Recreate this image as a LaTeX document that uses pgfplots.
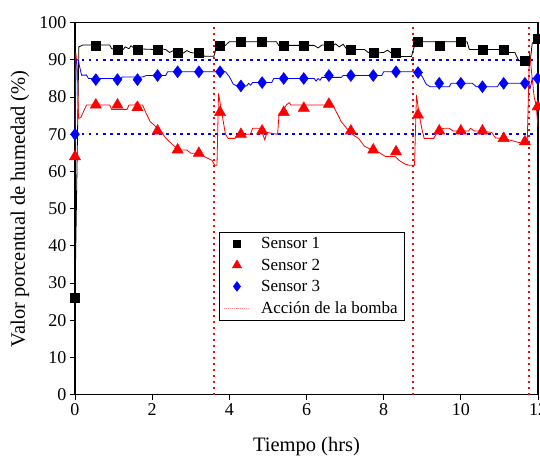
\documentclass[border=0pt]{standalone}
\usepackage{fontspec}
\setmainfont{Liberation Serif}
\usepackage{pgfplots}
\pgfplotsset{compat=1.18}
\begin{document}
\begin{tikzpicture}
\begin{axis}[
  scale only axis,
  width=463pt, height=372pt,
  xmin=0, xmax=12, ymin=0, ymax=100,
  xtick={0,2,...,12}, ytick={0,10,...,100},
  tick align=outside, xtick pos=bottom, ytick pos=left,
  major tick length=5pt,
  every tick/.style={black, line width=0.8pt},
  axis line style={line width=1.1pt},
  /pgf/number format/assume math mode=true,
  ticklabel style={font=\fontsize{18}{20}\selectfont},
  xlabel={Tiempo (hrs)}, ylabel={Valor porcentual de humedad (\%)},
  every axis x label/.style={at={(axis description cs:0.5,-0.1406)}, anchor=center, font=\fontsize{20.5}{23}\selectfont},
  every axis y label/.style={at={(axis description cs:-0.119,0.5)}, rotate=90, anchor=center, font=\fontsize{20.5}{23}\selectfont},
  clip mode=individual,
  legend image code/.code={\draw[mark repeat=2,mark phase=2,#1] plot coordinates {(8pt,0pt) (20.75pt,0pt) (33.5pt,0pt)};},
  legend image post style={mark options={scale=0.8}},
  legend style={at={(0.31,0.438)}, anchor=north west, draw=black, line width=0.6pt,
    font=\fontsize{17}{19}\selectfont, row sep=4.5pt, inner xsep=5pt, inner ysep=3.5pt,
    legend cell align=left, /tikz/every odd column/.append style={column sep=9pt}},
]
% reference lines
\addplot[blue, line width=2pt, dash pattern=on 2.5pt off 4.5pt, forget plot] coordinates {(0,90) (12,90)};
\addplot[blue, line width=2pt, dash pattern=on 2.5pt off 4.5pt, forget plot] coordinates {(0,70) (12,70)};
\addplot[red, line width=1.8pt, dash pattern=on 2pt off 4pt, forget plot] coordinates {(3.61,0) (3.61,100)};
\addplot[red, line width=1.8pt, dash pattern=on 2pt off 4pt, forget plot] coordinates {(8.77,0) (8.77,100)};
\addplot[red, line width=1.8pt, dash pattern=on 2pt off 4pt, forget plot] coordinates {(11.77,0) (11.77,100)};
% Sensor 1 line
\addplot[black, line width=0.8pt, forget plot] coordinates {
(0,26) (0.10,93.5) (0.20,94.0) (0.90,94.0) (0.95,93.0) (1.05,92.8) (1.25,92.8) (1.30,93.5)
(1.40,93.0) (1.45,93.8) (1.55,93.0) (2.05,92.8) (2.10,93.0) (2.35,92.8) (2.45,92.0) (2.55,92.5)
(2.65,91.8) (2.80,91.8) (2.90,92.5) (3.00,92.0) (3.10,91.8) (3.30,91.8) (3.35,91.0) (3.60,91.0)
(3.68,93.9) (3.90,93.9) (4.00,94.9) (5.22,94.9) (5.28,93.9) (5.80,93.9) (5.85,94.5) (5.95,93.9)
(6.20,93.9) (6.30,93.2) (6.40,94.0) (6.70,93.9) (6.75,94.3) (6.85,93.5) (6.95,94.2) (7.05,92.8)
(7.50,92.8) (7.60,92.0) (7.70,91.8) (8.00,92.0) (8.10,92.6) (8.20,91.8) (8.40,91.8) (8.45,90.9)
(8.72,90.9) (8.80,93.9) (8.90,94.9) (9.35,94.9) (9.40,93.9) (9.50,93.9) (9.55,94.9) (10.16,94.9)
(10.22,92.8) (11.15,92.8) (11.20,92.0) (11.40,92.0) (11.50,89.8) (11.80,89.8) (11.85,94.5) (12.0,95.8)
};
% Sensor 2 line
\addplot[red, line width=0.8pt, forget plot] coordinates {
(0,64) (0.02,92) (0.06,88) (0.09,74.3) (0.15,74.5) (0.30,77.9) (0.90,77.9) (0.95,76.7) (1.35,76.7)
(1.40,77.9) (1.55,77.9) (1.60,78.6) (1.65,77.9) (1.75,77.9) (1.85,75.5) (1.95,73.4) (2.05,72.5)
(2.15,71.5) (2.25,70.5) (2.35,69) (2.45,68) (2.55,67) (2.70,65.8) (2.90,65.8) (3.00,64.9)
(3.25,64.9) (3.35,64) (3.55,63) (3.62,61.7) (3.68,61.7) (3.72,81) (3.80,76) (3.90,70) (3.97,68.9)
(4.15,68.9) (4.20,70) (4.55,70) (4.60,71.6) (4.80,71.6) (4.85,70.5) (4.92,68.5) (4.97,70.5)
(5.25,70) (5.29,75.5) (5.40,76.5) (5.48,77.9) (5.55,78.5) (5.60,77.9) (6.60,77.9) (6.70,77.5)
(6.80,75.5) (6.90,73.4) (7.05,71.5) (7.15,70.5) (7.25,69.5) (7.35,68.9) (7.50,66.8) (7.70,65.8)
(7.90,65) (8.05,64) (8.30,64) (8.40,63) (8.55,62) (8.65,61.7) (8.80,61.7) (8.85,80.6) (8.92,75.2)
(9.00,71) (9.05,68.9) (9.30,68.9) (9.40,70.9) (9.55,71.6) (9.70,71.6) (9.80,70.9) (10.20,70.9)
(10.25,71.6) (10.35,70.9) (10.50,70.9) (10.80,70.5) (10.90,69) (11.10,68.9) (11.25,68.5)
(11.50,67.8) (11.72,67.6) (11.78,92.2) (11.85,85) (11.90,80) (11.95,78) (12.0,72)
};
% Sensor 3 line
\addplot[blue, line width=0.8pt, forget plot] coordinates {
(0,70) (0.03,90) (0.08,90) (0.17,85.9) (0.30,85.9) (0.35,85.0) (1.20,85.0) (1.22,85.4) (1.75,85.4)
(1.85,85.8) (2.35,85.8) (2.40,86.8) (3.90,86.8) (4.00,85.5) (4.10,83.5) (4.20,83.0) (4.45,83.0)
(4.50,83.7) (4.55,83.2) (4.60,83.9) (5.10,83.9) (5.15,85.0) (6.20,85.0) (6.25,84.3) (6.30,85.0)
(6.35,84.5) (6.40,85.3) (6.90,85.3) (6.95,85.8) (7.95,85.8) (8.00,86.8) (8.90,86.8) (9.00,85.5)
(9.10,83.5) (9.20,82.8) (9.70,82.8) (9.75,83.7) (10.30,83.7) (10.40,82.8) (10.95,82.8) (11.0,83.7)
(11.75,83.7) (11.80,82.5) (11.85,85) (12.0,85)
};
% markers
\addplot[black, only marks, mark=square*, mark size=4.5pt] coordinates {
(0,26) (0.54,93.9) (1.10,92.8) (1.62,92.8) (2.14,92.8) (2.66,91.8) (3.21,91.8) (3.76,93.9)
(4.30,94.9) (4.85,94.9) (5.41,93.9) (5.93,93.9) (6.58,93.9) (7.15,92.8) (7.73,91.8) (8.32,91.8)
(8.89,94.9) (9.44,93.9) (10.0,94.9) (10.56,92.8) (11.11,92.8) (11.66,89.8) (11.99,95.8)
};
\addlegendentry{Sensor 1}
\addplot[red, only marks, mark=triangle*, mark size=6.5pt] coordinates {
(0,64) (0.54,77.9) (1.10,77.9) (1.62,77.2) (2.14,70.9) (2.66,65.8) (3.21,64.9) (3.76,75.9)
(4.30,70.0) (4.85,70.9) (5.41,75.9) (5.93,77.0) (6.58,78.1) (7.15,70.9) (7.73,65.8) (8.32,65.3)
(8.89,75.2) (9.44,70.9) (10.0,70.9) (10.56,70.9) (11.11,68.9) (11.66,68.0) (11.99,77.4)
};
\addlegendentry{Sensor 2}
\addplot[blue, only marks, mark=diamond*, mark size=6pt] coordinates {
(0,70) (0.54,84.7) (1.10,84.7) (1.62,84.7) (2.14,85.8) (2.66,86.8) (3.21,86.8) (3.76,86.8)
(4.30,83.0) (4.85,83.9) (5.41,85.0) (5.93,85.0) (6.58,85.8) (7.15,85.8) (7.73,85.8) (8.32,86.8)
(8.89,86.6) (9.44,83.7) (10.0,83.7) (10.56,82.8) (11.11,83.7) (11.66,83.7) (11.99,85.0)
};
\addlegendentry{Sensor 3}
\addlegendimage{red!45, line width=0.8pt, dash pattern=on 1pt off 1pt}
\addlegendentry{Acción de la bomba}
\coordinate (SW) at (rel axis cs:0,0);
\coordinate (NE) at (rel axis cs:1,1);
\end{axis}
\pgfresetboundingbox
\path[use as bounding box] ([xshift=-75pt,yshift=-67.3pt]SW) rectangle ([xshift=2pt,yshift=22.7pt]NE);
\end{tikzpicture}
\end{document}
